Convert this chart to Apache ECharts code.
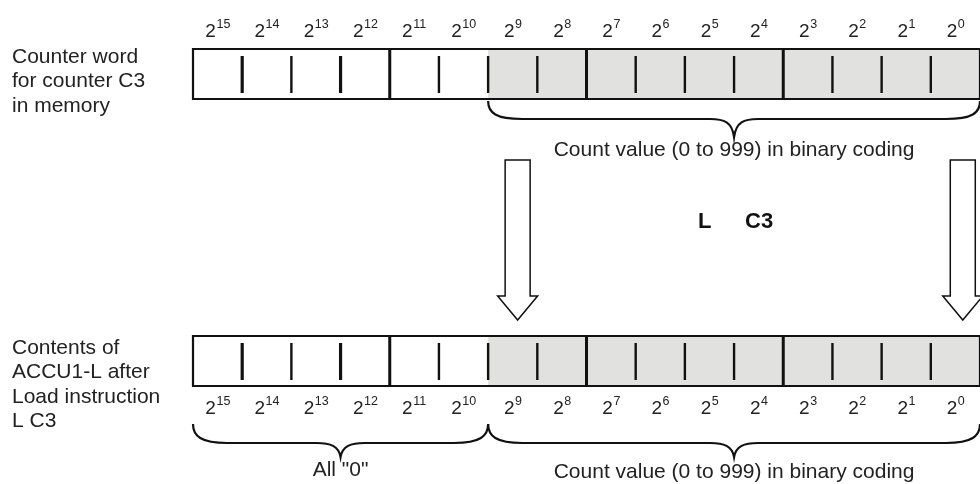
<!DOCTYPE html>
<html><head><meta charset="utf-8">
<script src="https://cdn.jsdelivr.net/npm/echarts@6/dist/echarts.min.js"></script>
<style>html,body{margin:0;padding:0;background:#fff}#c{width:980px;height:484px}</style>
</head><body><div id="c"></div>
<script>
// ---------------- data ----------------
const bitExponents = [15,14,13,12,11,10,9,8,7,6,5,4,3,2,1,0];
const registerNames = [
  'Counter word\nfor counter C3\nin memory',
  'Contents of\nACCU1-L after\nLoad instruction\nL C3'
];
const countValueBits = [9, 0];          // count value field (bit 9 .. bit 0)
const braceRows = [0, 1, 1];
const braceFromBits = [9, 15, 9];
const braceToBits = [0, 10, 0];
const braceLabels = [
  'Count value (0 to 999) in binary coding',
  'All "0"',
  'Count value (0 to 999) in binary coding'
];
const arrowBitPositions = [6.6, 15.65];  // transfer arrows, in bit-cell units from the left
const instruction = ['L', 'C3'];

// ---------------- layout / style ----------------
const FONT = '"Liberation Sans", Arial, Helvetica, sans-serif';
const INK = '#111';
const TXT = '#222';
const SHADE = '#e1e2df';
const LAY = {
  regTop: [49, 336], regBot: [99, 386],
  bitLabelY: [32, 409],
  labelX: 12, labelY: [57, 348], labelLH: 24.5,
  braceEnd: [101, 424], braceMid: [119, 443], braceTip: [137, 457],
  braceTextY: [150, 470, 472],
  arrowTop: 160, arrowHeadBase: 296, arrowTip: 320, shaftHalf: 12.5, headHalf: 20,
  instrY: 222, instrX: [698, 745]
};
const posOfBit = b => 15 - b;

function txt(text, x, y, size, opts) {
  opts = opts || {};
  return {
    type: 'text',
    style: {
      text: text, x: x, y: y,
      font: (opts.bold ? 'bold ' : '') + size + 'px ' + FONT,
      fill: opts.fill || TXT,
      align: opts.align || 'left', textAlign: opts.align || 'left',
      verticalAlign: opts.va || 'middle', textVerticalAlign: opts.va || 'middle'
    }
  };
}

function renderRegister(params, api) {
  const r = api.value(0);
  const [xl, yt] = api.coord([0, LAY.regTop[r]]);
  const [xr, yb] = api.coord([16, LAY.regBot[r]]);
  const xs = api.coord([posOfBit(countValueBits[0]), 0])[0];
  const ch = [
    {type: 'rect', shape: {x: xs, y: yt, width: xr - xs, height: yb - yt}, style: {fill: SHADE}},
    {type: 'rect', shape: {x: xl, y: yt, width: xr - xl, height: yb - yt}, style: {fill: 'none', stroke: INK, lineWidth: 2.2}}
  ];
  for (let p = 1; p < 16; p++) {
    const x = api.coord([p, 0])[0];
    const nib = p % 4 === 0;
    ch.push({
      type: 'line',
      shape: {x1: x, y1: nib ? yt : yt + 7, x2: x, y2: nib ? yb : yb - 6},
      style: {stroke: INK, lineWidth: nib ? 3 : ((p === 1 || p === 3) ? 3.2 : 2.4)}
    });
  }
  // left description
  const lines = registerNames[r].split('\n');
  lines.forEach((s, i) => ch.push(txt(s, LAY.labelX, LAY.labelY[r] + i * LAY.labelLH, 21)));
  return {type: 'group', children: ch};
}

function renderBitLabel(params, api) {
  const r = api.value(0), b = api.value(1);
  const cx = api.coord([posOfBit(b) + 0.5, 0])[0];
  const y = LAY.bitLabelY[r];
  const e = String(b);
  const w2 = 0.556 * 19, we = 0.556 * 12.5 * e.length;
  const left = cx - (w2 + we) / 2;
  return {type: 'group', children: [
    txt('2', left, y, 19),
    txt(e, left + w2 + 0.5, y - 7, 12.5)
  ]};
}

function renderBrace(params, api) {
  const i = params.dataIndex;
  const r = braceRows[i];
  const x1 = api.coord([posOfBit(braceFromBits[i]), 0])[0];
  const x2 = api.coord([posOfBit(braceToBits[i]) + 1, 0])[0];
  const yE = LAY.braceEnd[r], yM = LAY.braceMid[r], yT = LAY.braceTip[r];
  const xt = (x1 + x2) / 2;
  const c = 34;
  const d = `M${x1} ${yE} C${x1} ${yE + 12} ${x1 + 8} ${yM} ${x1 + c} ${yM} L${xt - 24} ${yM} ` +
    `C${xt - 10} ${yM} ${xt - 2} ${yM + 3} ${xt} ${yT} C${xt + 2} ${yM + 3} ${xt + 10} ${yM} ${xt + 24} ${yM} ` +
    `L${x2 - c} ${yM} C${x2 - 8} ${yM} ${x2} ${yE + 12} ${x2} ${yE}`;
  return {type: 'group', children: [
    {type: 'path', shape: {pathData: d}, style: {fill: 'none', stroke: INK, lineWidth: 2.2}},
    txt(braceLabels[i], xt, LAY.braceTextY[i], 21, {align: 'center'})
  ]};
}

function renderArrow(params, api) {
  const cx = api.coord([api.value(0), 0])[0];
  const s = LAY.shaftHalf, h = LAY.headHalf;
  const d = `M${cx - s} ${LAY.arrowTop} L${cx + s} ${LAY.arrowTop} L${cx + s} ${LAY.arrowHeadBase} ` +
    `L${cx + h} ${LAY.arrowHeadBase} L${cx} ${LAY.arrowTip} L${cx - h} ${LAY.arrowHeadBase} ` +
    `L${cx - s} ${LAY.arrowHeadBase} Z`;
  return {type: 'path', shape: {pathData: d}, style: {fill: '#fff', stroke: INK, lineWidth: 1.5}};
}

function renderInstr(params, api) {
  const i = params.dataIndex;
  return txt(instruction[i], LAY.instrX[i], LAY.instrY, 22, {bold: true, fill: '#111'});
}

const bitLabelData = [];
[0, 1].forEach(r => bitExponents.forEach(b => bitLabelData.push([r, b])));

const chart = echarts.init(document.getElementById('c'), null, {renderer: 'canvas'});
chart.setOption({
  animation: false,
  backgroundColor: '#fff',
  grid: {left: 193, right: 0, top: 0, bottom: 0},
  xAxis: {type: 'value', min: 0, max: 16, show: false},
  yAxis: {type: 'value', min: 0, max: 484, inverse: true, show: false},
  series: [
    {type: 'custom', silent: true, clip: false, data: registerNames.map((n, i) => [i]), renderItem: renderRegister},
    {type: 'custom', silent: true, clip: false, data: bitLabelData, renderItem: renderBitLabel},
    {type: 'custom', silent: true, clip: false, data: braceLabels.map((n, i) => [i]), renderItem: renderBrace},
    {type: 'custom', silent: true, clip: false, data: arrowBitPositions.map(v => [v]), renderItem: renderArrow},
    {type: 'custom', silent: true, clip: false, data: instruction.map((n, i) => [i]), renderItem: renderInstr}
  ]
});
</script></body></html>
